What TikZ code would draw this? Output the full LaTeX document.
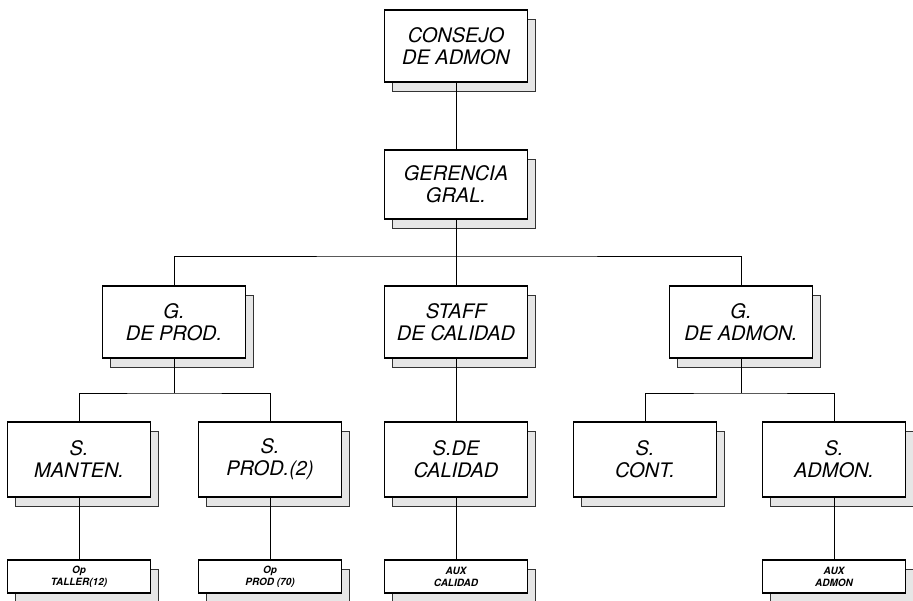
\documentclass[tikz,border=0pt]{standalone}
\usepackage{fontspec}
\setmainfont{TeX Gyre Heros}
\usetikzlibrary{positioning,shadows}

\begin{document}
\begin{tikzpicture}[
    x=1pt, y=-1pt,
    font=\itshape\fontsize{20}{22}\selectfont,
    box/.style={draw, fill=white, line width=1.1pt, rectangle, align=center,
                minimum width=143pt, inner sep=0pt,
                drop shadow={shadow xshift=8pt, shadow yshift=-9pt, opacity=1,
                             fill=shadefill, draw=black!80, line width=0.6pt}},
    main/.style={box, minimum height=72pt},
    leaf/.style={box, minimum height=33pt,
                 font=\bfseries\itshape\fontsize{10}{12}\selectfont},
    link/.style={line width=0.9pt},
  ]
  \definecolor{shadefill}{HTML}{E6E6E6}

  \useasboundingbox (0,0) rectangle (913,600);

  % ======================== DIRECCION ========================
  \node[main] (cons) at (456, 46) {CONSEJO\\DE ADMON};
  \node[main, minimum height=69pt] (gere) at (456, 184.5) {GERENCIA\\GRAL.};

  % ======================== GERENCIAS ========================
  \node[main] (gprod) at (174, 322) {G.\\DE PROD.};
  \node[main] (staff) at (456, 322) {STAFF\\DE CALIDAD};
  \node[main] (gadm)  at (741, 322) {G.\\DE ADMON.};

  % ====================== SUPERVISIONES ======================
  \node[main, minimum height=75pt] (smant) at (79, 459.5)  {S.\\MANTEN.};
  \node[main, minimum height=75pt] (sprod) at (270, 459.5) {S.\\PROD.(2)};
  \node[main, minimum height=75pt] (scal)  at (456, 459.5) {S.DE\\CALIDAD};
  \node[main, minimum height=75pt] (scont) at (645, 459.5) {S.\\CONT.};
  \node[main, minimum height=75pt] (sadm)  at (834, 459.5) {S.\\ADMON.};

  % ======================== OPERATIVOS =======================
  \node[leaf] (optal)  at (79, 576.5)  {Op\\TALLER(12)};
  \node[leaf] (opprod) at (270, 576.5) {Op\\PROD (70)};
  \node[leaf] (auxcal) at (456, 576.5) {AUX\\CALIDAD};
  \node[leaf] (auxadm) at (834, 576.5) {AUX\\ADMON};

  % ========================= LINEAS ==========================
  \coordinate (b1) at (456, 256);
  \coordinate (b2) at (174, 393);
  \coordinate (b3) at (741, 393);
  \draw[link] (cons) -- (gere);
  \draw[link] (gere) -- (staff);
  \draw[link] (gprod.north) |- (b1) -| (gadm.north);
  % Ramas de produccion y administracion
  \draw[link] (gprod) -- (b2);
  \draw[link] (smant.north) |- (b2) -| (sprod.north);
  \draw[link] (gadm) -- (b3);
  \draw[link] (scont.north) |- (b3) -| (sadm.north);
  \draw[link] (staff) -- (scal);
  % Hacia los puestos operativos
  \draw[link] (smant) -- (optal);
  \draw[link] (sprod) -- (opprod);
  \draw[link] (scal)  -- (auxcal);
  \draw[link] (sadm)  -- (auxadm);
\end{tikzpicture}
\end{document}
